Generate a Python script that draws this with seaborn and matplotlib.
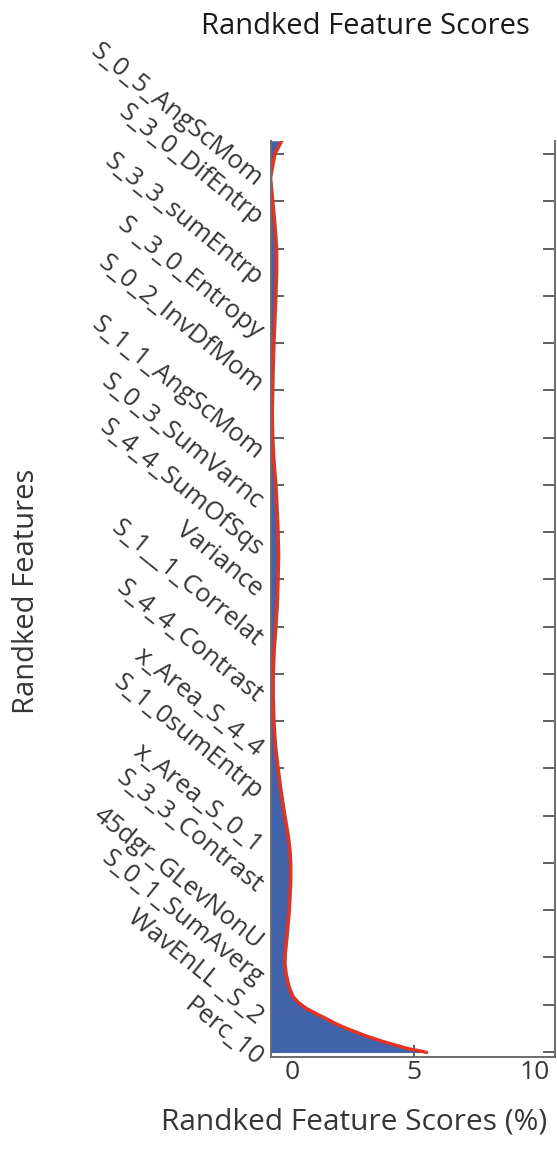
import numpy as np
import matplotlib
matplotlib.use("Agg")
import matplotlib.pyplot as plt
import seaborn as sns

# ---- data ----
features = [
    "S_0_5_AngScMom", "S_3_0_DifEntrp", "S_3_3_sumEntrp", "S _3_0_Entropy",
    "S_0_2_InvDfMom", "S_1_1_AngScMom", "S_0_3_SumVarnc", "S_4_4_SumOfSqs",
    "Variance", "S_1__1_Correlat", "S_4_4_Contrast", "x_Area_S_4_4",
    "S_1_0sumEntrp", "x_Area_S_0_1", "S_3_3_Contrast", "45dgr_GLevNonU",
    "S_0_1_SumAverg", "WavEnLL _S_2", "Perc_10",
]
rank_pos = [0.99, 1.03, 1.06, 1.14, 1.22, 1.34, 1.47, 1.58, 1.70, 1.81, 1.92,
            2.04, 2.17, 2.31, 2.45, 2.66, 2.88, 3.10, 3.51, 3.98, 4.57, 4.99,
            5.27, 5.60, 6.0, 6.5, 7.0, 7.5, 8.0, 8.5, 9.0, 9.5, 10.0, 10.5,
            11.0, 11.5, 12.0, 12.5, 13.0, 13.5, 14.0, 14.5, 15.0, 15.5, 16.0,
            16.5, 17.0, 17.5, 18.0, 18.5, 19.0, 19.5, 20.0, 20.28]
scores = [5.54, 5.20, 4.86, 4.30, 3.76, 3.05, 2.39, 1.88, 1.43, 1.00, 0.60,
          0.28, 0.05, -0.07, -0.15, -0.24, -0.29, -0.27, -0.19, -0.11, -0.05,
          -0.05, -0.08, -0.16, -0.29, -0.44, -0.57, -0.68, -0.74, -0.77,
          -0.77, -0.73, -0.66, -0.60, -0.57, -0.55, -0.57, -0.61, -0.66,
          -0.74, -0.79, -0.81, -0.79, -0.77, -0.74, -0.70, -0.66, -0.63,
          -0.63, -0.70, -0.79, -0.88, -0.70, -0.42]
y_ticks = list(range(1, 21))
x_ticks = [0, 5, 10]

sns.set_style("white")
plt.rcParams["font.family"] = ["Open Sans", "DejaVu Sans"]

W, H = 557, 1153
fig = plt.figure(figsize=(W / 100, H / 100), dpi=100)
ax = fig.add_axes([271 / W, 1 - 1057 / H, (555 - 271) / W, (1057 - 141) / H])

xmin, xmax = -0.864, 10.82
ymin, ymax = 0.894, 20.276

blue = "#4262a9"
red = "#e8311f"

ax.fill_betweenx(rank_pos, xmin, scores, color=blue, linewidth=0, zorder=1)
sns.lineplot(x=scores, y=rank_pos, orient="y", sort=False, estimator=None,
             color=red, linewidth=2.4, ax=ax, zorder=2)

ax.set_xlim(xmin, xmax)
ax.set_ylim(ymin, ymax)
ax.set_xticks(x_ticks)
ax.set_xticklabels([str(v) for v in x_ticks])
ax.set_yticks(y_ticks)
ax.set_yticklabels([])
ax.set_xlabel("")
ax.set_ylabel("")

spine_c = "#6b6b6b"
for s in ["left", "right", "bottom"]:
    ax.spines[s].set_visible(True)
    ax.spines[s].set_color(spine_c)
    ax.spines[s].set_linewidth(1.4)
ax.spines["top"].set_visible(False)

ax.tick_params(axis="y", direction="in", left=True, right=True, length=9,
               width=1.3, color="#555555")
ax.tick_params(axis="x", direction="in", bottom=True, top=False, length=9,
               width=1.3, color="#555555", labelsize=19, labelcolor="#363636",
               pad=2)
xt = ax.xaxis.get_major_ticks()
xt[0].tick1line.set_visible(False)
xt[2].tick1line.set_visible(False)

# rotated feature labels: pixel rows of the label ends, mapped onto the axis
label_px = np.array([187, 226, 286, 339, 393, 460, 510, 557, 597, 647, 703,
                     757, 800, 853, 893, 950, 986, 1025, 1067])
label_y = 1 + (1052 - label_px) / 47.26
trans = ax.get_yaxis_transform()
for name, yy in zip(features, label_y):
    ax.text(-0.055, yy, name, transform=trans, rotation=-39,
            rotation_mode="anchor", ha="right", va="baseline",
            fontsize=18.5, color="#363636", clip_on=False)

fig.text(365 / W, 1 - 27 / H, "Randked Feature Scores", ha="center",
         va="center", fontsize=21, color="#1a1a1a")
fig.text(354 / W, 1 - 1122 / H, "Randked Feature Scores (%)", ha="center",
         va="center", fontsize=21.5, color="#363636")
fig.text(27 / W, 1 - 591 / H, "Randked Features", ha="center", va="center",
         rotation=90, fontsize=21, color="#363636")

fig.savefig("out.png", dpi=100)
